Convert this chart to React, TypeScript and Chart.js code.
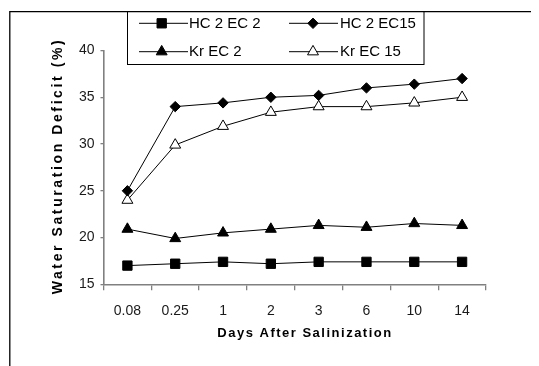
import React, { useEffect, useRef } from "react";
import { Chart, registerables } from "chart.js";

Chart.register(...registerables);

const categories = ["0.08", "0.25", "1", "2", "3", "6", "10", "14"];
const hc2ec2 = [17.0, 17.2, 17.4, 17.2, 17.4, 17.4, 17.4, 17.4];
const hc2ec15 = [25.0, 34.0, 34.4, 35.0, 35.2, 36.0, 36.4, 37.0];
const krec2 = [20.9, 19.9, 20.5, 20.9, 21.3, 21.1, 21.5, 21.3];
const krec15 = [24.0, 29.9, 31.9, 33.4, 34.0, 34.0, 34.4, 35.0];
const seriesNames = ["HC 2 EC 2", "HC 2 EC15", "Kr EC 2", "Kr EC 15"];
const yTitle = "Water Saturation Deficit (%)";
const xTitle = "Days After Salinization";

const FONT = "'Liberation Sans', Arial, sans-serif";

function drawMarker(ctx: CanvasRenderingContext2D, style: string, x: number, y: number, r: number, fill: string) {
  ctx.beginPath();
  if (style === "rect") {
    const s = Math.SQRT1_2 * r;
    ctx.rect(x - s, y - s, 2 * s, 2 * s);
  } else if (style === "rectRot") {
    ctx.moveTo(x, y - r);
    ctx.lineTo(x + r, y);
    ctx.lineTo(x, y + r);
    ctx.lineTo(x - r, y);
    ctx.closePath();
  } else {
    const a = (2 * Math.PI) / 3;
    ctx.moveTo(x, y - r);
    ctx.lineTo(x + r * Math.sin(a), y - r * Math.cos(a));
    ctx.lineTo(x - r * Math.sin(a), y - r * Math.cos(a));
    ctx.closePath();
  }
  ctx.fillStyle = fill;
  ctx.fill();
  ctx.lineWidth = 1;
  ctx.strokeStyle = "#000";
  ctx.stroke();
}

const framePlugin = {
  id: "framePlugin",
  beforeDraw(chart: any) {
    const ctx = chart.ctx as CanvasRenderingContext2D;
    ctx.save();
    ctx.strokeStyle = "#000";
    ctx.lineWidth = 1.3;
    ctx.beginPath();
    ctx.moveTo(1.8, 358);
    ctx.lineTo(1.8, 3.6);
    ctx.lineTo(531, 3.6);
    ctx.stroke();
    ctx.restore();
  },
  afterDraw(chart: any) {
    const ctx = chart.ctx as CanvasRenderingContext2D;
    ctx.save();
    ctx.strokeStyle = "#000";
    ctx.lineWidth = 1;
    ctx.strokeRect(119.5, 3.5, 296.5, 53);
    const ds = chart.data.datasets;
    const pos = [
      { lx: 131, row: 15.3, mx: 153.7, tx: 181 },
      { lx: 281, row: 15.3, mx: 305, tx: 332 },
      { lx: 131, row: 43.7, mx: 153.7, tx: 181 },
      { lx: 281, row: 43.7, mx: 305, tx: 332 },
    ];
    ds.forEach((d: any, i: number) => {
      const p = pos[i];
      ctx.beginPath();
      ctx.strokeStyle = "#000";
      ctx.lineWidth = 1;
      ctx.moveTo(p.lx, p.row);
      ctx.lineTo(p.lx + 49, p.row);
      ctx.stroke();
      drawMarker(ctx, d.pointStyle, p.mx, p.row, d.pointRadius, d.pointBackgroundColor);
      ctx.fillStyle = "#000";
      ctx.font = `15px ${FONT}`;
      ctx.textAlign = "left";
      ctx.textBaseline = "middle";
      ctx.fillText(d.label, p.tx, p.row + 0.5);
    });
    ctx.fillStyle = "#000";
    ctx.textAlign = "center";
    ctx.textBaseline = "middle";
    ctx.font = `bold 13px ${FONT}`;
    (ctx as any).letterSpacing = "1.5px";
    ctx.fillText(xTitle, 297, 325);
    ctx.save();
    ctx.translate(50, 158);
    ctx.rotate(-Math.PI / 2);
    ctx.font = `bold 14px ${FONT}`;
    (ctx as any).letterSpacing = "2.6px";
    ctx.fillText(yTitle, 0, 0);
    ctx.restore();
    (ctx as any).letterSpacing = "0px";
    ctx.restore();
  },
};

export default function App() {
  const ref = useRef<HTMLCanvasElement>(null);
  useEffect(() => {
    if (!ref.current) return;
    const mk = (label: string, data: number[], style: string, r: number, fill: string) => ({
      label,
      data,
      borderColor: "#000",
      borderWidth: 1,
      pointStyle: style,
      pointRadius: r,
      pointHoverRadius: r,
      pointBackgroundColor: fill,
      pointBorderColor: "#000",
      pointBorderWidth: 1,
      fill: false,
      tension: 0,
    });
    const chart = new Chart(ref.current, {
      type: "line",
      data: {
        labels: categories,
        datasets: [
          mk(seriesNames[0], hc2ec2, "rect", 6.6, "#000"),
          mk(seriesNames[1], hc2ec15, "rectRot", 5.2, "#000"),
          mk(seriesNames[2], krec2, "triangle", 6.3, "#000"),
          mk(seriesNames[3], krec15, "triangle", 6.3, "#fff"),
        ] as any,
      },
      options: {
        animation: false,
        responsive: false,
        layout: { padding: { left: 0, top: 42.5, right: 53, bottom: 0 } },
        plugins: { legend: { display: false }, tooltip: { enabled: false }, title: { display: false } },
        scales: {
          x: {
            offset: true,
            grid: { display: true, offset: true, drawOnChartArea: false, tickLength: 6, color: "#808080", lineWidth: 1.3 },
            border: { display: true, color: "#808080", width: 1.6 },
            ticks: { color: "#1a1a1a", font: { family: FONT, size: 14 }, padding: 12, maxRotation: 0 },
            afterFit: (s: any) => { s.height = 81.7; },
          },
          y: {
            min: 15,
            max: 40,
            ticks: { stepSize: 5, color: "#1a1a1a", font: { family: FONT, size: 14 }, padding: 6 },
            grid: { display: true, drawOnChartArea: false, tickLength: 3, color: "#808080", lineWidth: 1.3 },
            border: { display: true, color: "#808080", width: 1.6 },
            afterFit: (s: any) => { s.width = 95.5; },
          },
        },
      } as any,
      plugins: [framePlugin],
    });
    return () => chart.destroy();
  }, []);
  return (
    <div style={{ width: 531, height: 358 }}>
      <canvas ref={ref} width={531} height={358} style={{ display: "block" }} />
    </div>
  );
}
